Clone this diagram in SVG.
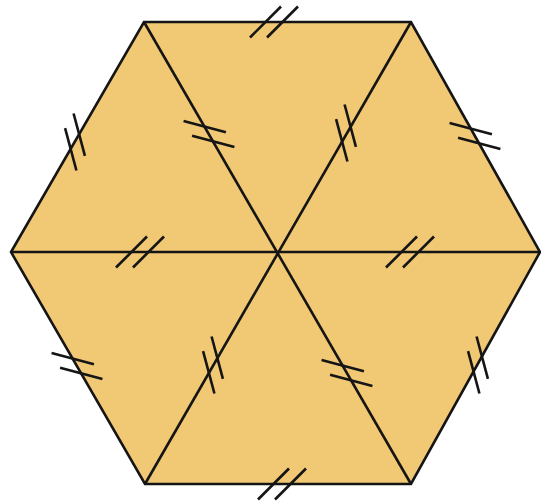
<svg xmlns="http://www.w3.org/2000/svg" xmlns:xlink="http://www.w3.org/1999/xlink" width="541" height="504" viewBox="0 0 541 504">
  <style>
    .edge { stroke: #151515; stroke-width: 2.6; fill: none; stroke-linejoin: miter; }
    .tick { stroke: #151515; stroke-width: 2.6; stroke-linecap: butt; }
  </style>
  <defs>
    <g id="tk">
      <line class="tick" x1="-24" y1="15.5" x2="7" y2="-15.5"/>
      <line class="tick" x1="-7" y1="15.5" x2="24" y2="-15.5"/>
    </g>
  </defs>
  <rect x="0" y="0" width="541" height="504" fill="#ffffff"/>
  <g id="hexagon">
    <polygon points="144,22 411,22 540,252 411,484 145,484 11,252" fill="#F1C874"/>
  </g>
  <g id="connectors">
    <line class="edge" x1="144" y1="22" x2="411" y2="484"/>
    <line class="edge" x1="411" y1="22" x2="145" y2="484"/>
    <line class="edge" x1="11" y1="252" x2="540" y2="252"/>
    <polygon class="edge" points="144,22 411,22 540,252 411,484 145,484 11,252"/>
  </g>
  <g id="ticks">
    <use xlink:href="#tk" transform="translate(274,22)"/>
    <use xlink:href="#tk" transform="translate(282,484)"/>
    <use xlink:href="#tk" transform="translate(140,252)"/>
    <use xlink:href="#tk" transform="translate(410,252)"/>
    <use xlink:href="#tk" transform="translate(75,142) rotate(-60)"/>
    <use xlink:href="#tk" transform="translate(475,136) rotate(60)"/>
    <use xlink:href="#tk" transform="translate(77,366) rotate(60)"/>
    <use xlink:href="#tk" transform="translate(478,365) rotate(-60)"/>
    <use xlink:href="#tk" transform="translate(209,134) rotate(60)"/>
    <use xlink:href="#tk" transform="translate(346,133) rotate(-60)"/>
    <use xlink:href="#tk" transform="translate(213,365) rotate(-60)"/>
    <use xlink:href="#tk" transform="translate(347,373) rotate(60)"/>
  </g>
</svg>
